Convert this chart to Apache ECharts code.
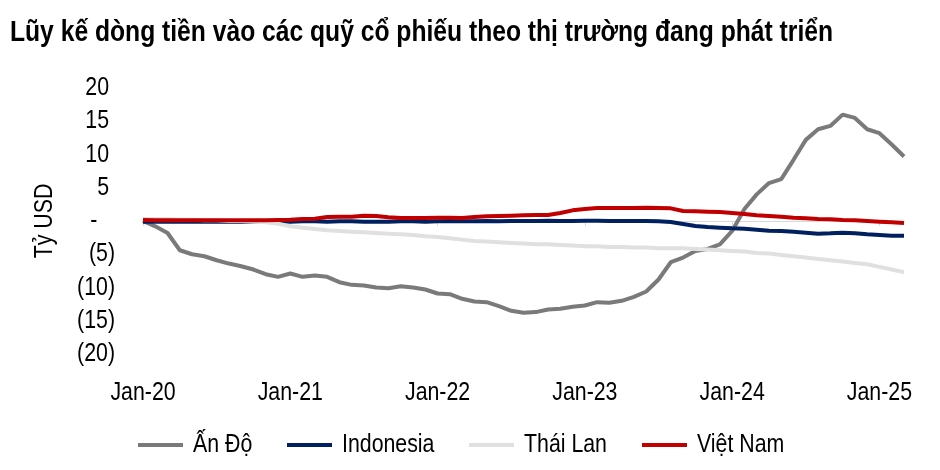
<!DOCTYPE html>
<html>
<head>
<meta charset="utf-8">
<script src="https://cdn.jsdelivr.net/npm/echarts@6/dist/echarts.min.js"></script>
<style>
html,body{margin:0;padding:0;background:#fff;}
#chart{width:940px;height:470px;}
</style>
</head>
<body>
<div id="chart"></div>
<script>
const titleText = 'Lũy kế dòng tiền vào các quỹ cổ phiếu theo thị trường đang phát triển';
const yAxisName = 'Tỷ USD';
const monthNames = ['Jan','Feb','Mar','Apr','May','Jun','Jul','Aug','Sep','Oct','Nov','Dec'];
const years = ['20','21','22','23','24','25'];
const monthCount = 63; // Jan-20 .. Mar-25
const seriesNames = ['Ấn Độ', 'Indonesia', 'Thái Lan', 'Việt Nam'];

const india = [0, -0.8, -1.8, -4.4, -5.0, -5.3, -5.9, -6.4, -6.8, -7.3,
  -8.0, -8.4, -7.9, -8.4, -8.2, -8.4, -9.2, -9.6, -9.7, -10.0,
  -10.1, -9.8, -10.0, -10.3, -10.9, -11.0, -11.7, -12.1, -12.2, -12.8,
  -13.5, -13.8, -13.7, -13.3, -13.2, -12.9, -12.7, -12.2, -12.3, -12.0,
  -11.4, -10.6, -8.8, -6.2, -5.5, -4.5, -4.2, -3.5, -1.5, 1.8,
  4.0, 5.7, 6.3, 9.2, 12.2, 13.8, 14.3, 16.0, 15.5, 13.8,
  13.2, 11.5, 9.7];
const indonesia = [-0.1, -0.1, -0.1, -0.1, -0.1, -0.1, -0.1, -0.1, -0.1, -0.1,
  -0.1, -0.1, -0.1, -0.05, -0.05, -0.1, -0.05, -0.05, -0.1, -0.1,
  -0.1, -0.05, -0.05, -0.1, -0.05, 0.0, -0.05, -0.05, 0.0, -0.05,
  0.0, 0.0, 0.0, 0.05, 0.0, 0.0, 0.05, 0.05, 0.0, 0.0,
  0.0, 0.0, -0.05, -0.15, -0.45, -0.75, -0.9, -1.0, -1.1, -1.15,
  -1.3, -1.45, -1.5, -1.6, -1.75, -1.9, -1.85, -1.75, -1.85, -2.0,
  -2.1, -2.2, -2.2];
const thailand = [0.3, 0.3, 0.3, 0.2, 0.2, 0.1, 0.1, 0.0, 0.0, -0.1,
  -0.2, -0.4, -0.8, -1.0, -1.2, -1.4, -1.5, -1.6, -1.7, -1.8,
  -1.9, -2.0, -2.1, -2.3, -2.4, -2.6, -2.8, -3.0, -3.1, -3.2,
  -3.3, -3.4, -3.5, -3.5, -3.6, -3.7, -3.8, -3.8, -3.9, -3.9,
  -4.0, -4.0, -4.1, -4.1, -4.1, -4.2, -4.3, -4.4, -4.5, -4.6,
  -4.8, -4.9, -5.1, -5.3, -5.5, -5.7, -5.9, -6.1, -6.3, -6.5,
  -6.9, -7.3, -7.7];
const vietnam = [0.15, 0.1, 0.1, 0.1, 0.1, 0.1, 0.1, 0.1, 0.1, 0.1,
  0.1, 0.15, 0.2, 0.3, 0.35, 0.6, 0.65, 0.65, 0.8, 0.75,
  0.55, 0.45, 0.45, 0.45, 0.5, 0.5, 0.45, 0.6, 0.7, 0.75,
  0.8, 0.85, 0.9, 0.9, 1.2, 1.6, 1.8, 1.95, 1.95, 1.95,
  1.95, 2.0, 1.95, 1.9, 1.5, 1.45, 1.4, 1.35, 1.2, 1.05,
  0.85, 0.75, 0.65, 0.5, 0.4, 0.3, 0.25, 0.15, 0.1, 0.0,
  -0.1, -0.2, -0.3];

const yTickMin = -20, yTickMax = 20, yTickStep = 5;

const categories = [];
for (let i = 0; i < monthCount; i++) {
  categories.push(monthNames[i % 12] + '-' + years[Math.floor(i / 12)]);
}

const FONT = '"Liberation Sans", Arial, sans-serif';
const colors = ['#7a7a7a', '#002060', '#e0e0e0', '#c00000'];
const NARROW = 0.82;          // horizontal squeeze to mimic a narrow face
const TITLE_WIDTH = 823;      // target rendered width of the title
const TITLE_SIZE = 30;
const LEGEND_TEXT_SHIFT = 5;

function yFmt(v) {
  if (v === 0) return '-   ';
  if (v < 0) return '(' + Math.abs(v) + ')';
  return v + ' ';
}

const chart = echarts.init(document.getElementById('chart'), null, {renderer: 'canvas'});
const dataSets = [india, indonesia, thailand, vietnam];
const legendLefts = [138, 287, 469, 642];

chart.setOption({
  animation: false,
  backgroundColor: '#fff',
  color: colors,
  title: {
    text: titleText,
    left: 10, top: 18, padding: 0,
    textStyle: {fontFamily: FONT, fontWeight: 'bold', fontSize: TITLE_SIZE, color: '#000'}
  },
  grid: {left: 143, right: 36, top: 88, bottom: 116, containLabel: false},
  legend: seriesNames.map((n, i) => ({
    left: legendLefts[i], top: 432, padding: 0,
    itemWidth: 45, itemHeight: 4, itemGap: 0,
    icon: 'rect',
    textStyle: {fontFamily: FONT, fontSize: 26, color: '#000'},
    data: [n]
  })),
  xAxis: [{
    type: 'category', data: categories, boundaryGap: false,
    axisLine: {onZero: true, lineStyle: {color: '#d9d9d9', width: 1}},
    axisTick: {show: true, length: 5, interval: function (i) { return i % 12 === 0; }, lineStyle: {color: '#d9d9d9'}},
    axisLabel: {show: false},
    splitLine: {show: false}
  }, {
    type: 'category', data: categories, boundaryGap: false, position: 'bottom',
    axisLine: {show: false, onZero: false},
    axisTick: {show: false},
    axisLabel: {
      show: true, margin: 26,
      interval: function (i) { return i % 12 === 0; },
      fontFamily: FONT, fontSize: 26, color: '#000'
    },
    splitLine: {show: false}
  }],
  yAxis: {
    type: 'value', min: yTickMin, max: yTickMax, interval: yTickStep,
    name: yAxisName, nameLocation: 'middle', nameRotate: 90, nameGap: 82,
    nameTextStyle: {fontFamily: FONT, fontSize: 26, color: '#000'},
    axisLine: {show: false}, axisTick: {show: false}, splitLine: {show: false},
    axisLabel: {margin: 28, formatter: yFmt, fontFamily: FONT, fontSize: 26, color: '#000'}
  },
  series: seriesNames.map((n, i) => ({
    name: n, type: 'line', data: dataSets[i], xAxisIndex: 0,
    showSymbol: false, symbol: 'none', smooth: false,
    lineStyle: {width: 4, color: colors[i]},
    itemStyle: {color: colors[i]}
  }))
});

// Squeeze all text horizontally to imitate the condensed face of the original.
(function squeeze() {
  const c = document.createElement('canvas').getContext('2d');
  c.font = 'bold ' + TITLE_SIZE + 'px ' + FONT;
  const titleScale = TITLE_WIDTH / c.measureText(titleText).width;
  const zr = chart.getZr();
  function visit(el) {
    if (el.type === 'text' && el.style && el.style.text != null) {
      const t = el.style.text;
      el.originX = el.style.x || 0;
      el.originY = el.style.y || 0;
      el.scaleX = (t === titleText) ? titleScale : NARROW;
      if (seriesNames.indexOf(t) >= 0) el.x += LEGEND_TEXT_SHIFT;
      el.markRedraw && el.markRedraw();
    }
  }
  zr.storage.getRoots().forEach(function (root) {
    if (root.traverse) root.traverse(visit); else visit(root);
  });
  zr.refreshImmediately();
})();
</script>
</body>
</html>
